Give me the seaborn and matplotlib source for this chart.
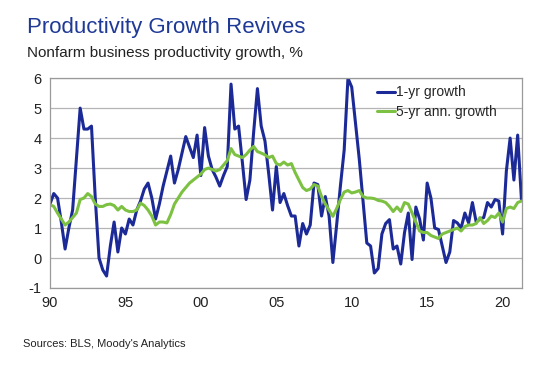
import numpy as np
import pandas as pd
import matplotlib
matplotlib.use("Agg")
import matplotlib.pyplot as plt
import seaborn as sns

# Quarterly data, 1990Q1 - 2021Q2
start_year = 1990
one_yr = [
    1.8, 2.15, 2.0, 1.2,      # 1990
    0.3, 1.0, 1.6, 3.3,       # 1991
    5.0, 4.3, 4.3, 4.4,       # 1992
    2.0, 0.0, -0.4, -0.6,     # 1993
    0.4, 1.2, 0.2, 1.0,       # 1994
    0.8, 1.3, 1.1, 1.6,       # 1995
    1.9, 2.3, 2.5, 2.0,       # 1996
    1.3, 1.8, 2.4, 2.9,       # 1997
    3.4, 2.5, 2.95, 3.5,      # 1998
    4.05, 3.7, 3.35, 4.1,     # 1999
    2.75, 4.35, 3.4, 2.95,    # 2000
    2.7, 2.4, 2.75, 3.05,     # 2001
    5.8, 4.3, 4.4, 3.2,       # 2002
    1.95, 2.6, 4.2, 5.65,     # 2003
    4.4, 3.9, 2.8, 1.6,       # 2004
    3.05, 1.85, 2.15, 1.75,   # 2005
    1.4, 1.4, 0.4, 1.15,      # 2006
    0.8, 1.1, 2.5, 2.45,      # 2007
    1.4, 2.05, 1.4, -0.15,    # 2008
    1.1, 2.4, 3.6, 6.0,       # 2009
    5.7, 4.5, 3.3, 1.9,       # 2010
    0.5, 0.4, -0.5, -0.35,    # 2011
    0.8, 1.15, 1.28, 0.3,     # 2012
    0.4, -0.2, 0.85, 1.5,     # 2013
    -0.05, 1.7, 1.3, 0.6,     # 2014
    2.5, 2.0, 1.0, 0.95,      # 2015
    0.4, -0.15, 0.2, 1.25,    # 2016
    1.17, 1.0, 1.5, 1.17,     # 2017
    1.85, 1.2, 1.3, 1.35,     # 2018
    1.85, 1.7, 1.95, 1.9,     # 2019
    0.8, 2.9, 4.0, 2.6,       # 2020
    4.1, 1.95,                # 2021
]
five_yr = [
    1.78, 1.72, 1.5, 1.3,
    1.1, 1.2, 1.35, 1.5,
    1.95, 2.0, 2.15, 2.05,
    1.8, 1.72, 1.72, 1.78,
    1.8, 1.75, 1.6, 1.72,
    1.6, 1.55, 1.55, 1.6,
    1.83, 1.75, 1.6, 1.4,
    1.1, 1.2, 1.2, 1.17,
    1.45, 1.8, 2.0, 2.2,
    2.35, 2.5, 2.6, 2.7,
    2.8, 2.95, 3.0, 2.95,
    2.9, 2.95, 3.1, 3.25,
    3.65, 3.45, 3.4, 3.35,
    3.45, 3.6, 3.72, 3.55,
    3.5, 3.44, 3.35, 3.4,
    3.15, 3.1, 3.2, 3.1,
    3.15, 2.85, 2.6, 2.35,
    2.25, 2.3, 2.45, 2.4,
    2.05, 1.8, 1.6, 1.39,
    1.65, 1.95, 2.2, 2.25,
    2.17, 2.2, 2.25, 2.05,
    2.0, 2.0, 1.98, 1.92,
    1.9, 1.85, 1.72, 1.55,
    1.7, 1.55, 1.85, 1.8,
    1.5, 1.2, 0.9, 0.85,
    0.85, 0.75, 0.7, 0.65,
    0.8, 0.85, 0.9, 0.95,
    1.0, 0.9, 1.05, 1.1,
    1.1, 1.15, 1.35, 1.15,
    1.25, 1.4, 1.35, 1.5,
    1.2, 1.65, 1.7, 1.65,
    1.85, 1.9,
]
series_names = ["1-yr growth", "5-yr ann. growth"]
series_colors = ["#1c2a97", "#7dc142"]
tick_years = [1990, 1995, 2000, 2005, 2010, 2015, 2020]
tick_labels = ["90", "95", "00", "05", "10", "15", "20"]

t = start_year + np.arange(len(one_yr)) / 4
df = pd.concat([
    pd.DataFrame({"t": t, "value": one_yr, "series": series_names[0]}),
    pd.DataFrame({"t": t, "value": five_yr, "series": series_names[1]}),
])

sns.set_style("white")
plt.rcParams["font.family"] = ["Liberation Sans", "DejaVu Sans"]
plt.rcParams["axes.unicode_minus"] = False

fig = plt.figure(figsize=(5.5, 3.65), dpi=100)
ax = fig.add_axes([0.0909, 0.211, 0.858, 0.575])

sns.lineplot(data=df, x="t", y="value", hue="series", hue_order=series_names,
             palette=series_colors, linewidth=2.2, ax=ax)

ax.set_xlim(1990, 2021.28)
ax.set_ylim(-1, 6)
ax.set_yticks(range(-1, 7))
ax.set_xticks(tick_years)
ax.set_xticklabels(tick_labels)
ax.set_xlabel("")
ax.set_ylabel("")
ax.yaxis.grid(True, color="#b5b5b5", linewidth=0.9)
ax.set_axisbelow(True)
for s in ax.spines.values():
    s.set_color("#9a9a9a")
    s.set_linewidth(0.9)
ax.tick_params(axis="x", direction="inout", length=7, width=0.8, color="#8a8a8a",
               labelsize=10.5, pad=2, labelcolor="#222222")
ax.tick_params(axis="y", direction="out", length=3, width=0.8, color="#8a8a8a",
               labelsize=10.5, pad=3, labelcolor="#222222")

ax.legend(loc="upper left", bbox_to_anchor=(0.693, 0.965), frameon=False,
          fontsize=10, handlelength=1.3, handletextpad=0.1, labelspacing=0.4,
          borderpad=0, borderaxespad=0)

fig.text(0.049, 0.91, "Productivity Growth Revives", fontsize=16, color="#1f3a96")
fig.text(0.049, 0.845, "Nonfarm business productivity growth, %", fontsize=11,
         color="#222222")
fig.text(0.042, 0.05, "Sources: BLS, Moody's Analytics", fontsize=8,
         color="#222222")

fig.savefig("out.png", dpi=100)
